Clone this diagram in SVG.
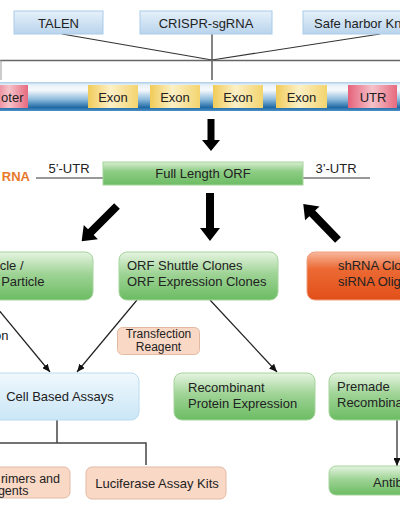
<svg xmlns="http://www.w3.org/2000/svg" width="400" height="516" viewBox="0 0 400 516">
<defs>
<style>
text{font-family:"Liberation Sans",Arial,sans-serif;font-size:13px;fill:#222;}
.c{text-anchor:middle;}
.e{text-anchor:end;}
.top{fill:url(#gTop);stroke:#a9cbe8;stroke-width:1;}
.green{fill:url(#gGreen);stroke:#a6d49d;stroke-width:1;}
.peach{fill:#fad8c6;stroke:#e2b9a3;stroke-width:1;}
.blue{fill:url(#gBlue);stroke:#bcdcef;stroke-width:1;}
.exon{fill:url(#gExon);}
.pink{fill:url(#gPink);}
.thin{stroke:#222;stroke-width:1.2;fill:none;marker-end:url(#ah);}
.tree{stroke:#444;stroke-width:1.5;fill:none;}
.big{fill:#000;}
.sm{font-size:12px;}
</style>
<linearGradient id="gTop" x1="0" y1="0" x2="0" y2="1"><stop offset="0" stop-color="#e6f0fa"/><stop offset="1" stop-color="#b9d4ec"/></linearGradient>
<linearGradient id="gGreen" x1="0" y1="0" x2="0" y2="1"><stop offset="0" stop-color="#e6f4e1"/><stop offset="0.45" stop-color="#9fd496"/><stop offset="1" stop-color="#6cbc63"/></linearGradient>
<linearGradient id="gOrf" x1="0" y1="0" x2="0" y2="1"><stop offset="0" stop-color="#d8eed2"/><stop offset="0.4" stop-color="#8fcd86"/><stop offset="1" stop-color="#6cbc63"/></linearGradient>
<linearGradient id="gOrange" x1="0" y1="0" x2="0" y2="1"><stop offset="0" stop-color="#f7b79d"/><stop offset="0.35" stop-color="#ec6a34"/><stop offset="1" stop-color="#e24f19"/></linearGradient>
<linearGradient id="gBlue" x1="0" y1="0" x2="0" y2="1"><stop offset="0" stop-color="#f0f8fd"/><stop offset="1" stop-color="#cae6f6"/></linearGradient>
<linearGradient id="gBar" x1="0" y1="0" x2="0" y2="1"><stop offset="0" stop-color="#a9cbe6"/><stop offset="0.1" stop-color="#e8f1f9"/><stop offset="0.28" stop-color="#f6f9fc"/><stop offset="0.6" stop-color="#8dbbdc"/><stop offset="0.88" stop-color="#1f6aa5"/><stop offset="1" stop-color="#4e91c6"/></linearGradient>
<linearGradient id="gExon" x1="0" y1="0" x2="1" y2="0"><stop offset="0" stop-color="#f1cb58"/><stop offset="0.45" stop-color="#fcf0c6"/><stop offset="1" stop-color="#f3d46e"/></linearGradient>
<linearGradient id="gPink" x1="0" y1="0" x2="1" y2="0"><stop offset="0" stop-color="#e5627a"/><stop offset="0.5" stop-color="#f6c2ca"/><stop offset="1" stop-color="#e66a7e"/></linearGradient>
<marker id="ah" viewBox="0 0 8 7" markerWidth="8" markerHeight="7" refX="8" refY="3.5" orient="auto" markerUnits="userSpaceOnUse"><path d="M0,0 L8,3.5 L0,7 z" fill="#111"/></marker>
</defs>
<rect width="400" height="516" fill="#fff"/>

<g id="connectors">
<line x1="62" y1="34" x2="212" y2="60" stroke="#333" stroke-width="1.2"/>
<line x1="380" y1="34" x2="212" y2="60" stroke="#333" stroke-width="1.2"/>
<line x1="212" y1="34" x2="212" y2="80" stroke="#333" stroke-width="1.2"/>
<line x1="0" y1="60.5" x2="400" y2="60.5" stroke="#666" stroke-width="1.6"/>
<line x1="1" y1="60" x2="1" y2="80" stroke="#999" stroke-width="1"/>
<polygon class="big" points="207.5,119 214.5,119 214.5,140 220,140 211,151 202,140 207.5,140"/>
<polygon class="big" points="206,193 214,193 214,228 220,228 210,241 200,228 206,228"/>
<polygon class="big" points="0,-4 37,-4 37,-10 50,0 37,10 37,4 0,4" transform="translate(117,206) rotate(135)"/>
<polygon class="big" points="0,-4 37,-4 37,-10 50,0 37,10 37,4 0,4" transform="translate(338,240) rotate(-134)"/>
<line x1="36" y1="178" x2="103" y2="178" stroke="#333" stroke-width="1.2"/>
<line x1="303" y1="178" x2="370" y2="178" stroke="#333" stroke-width="1.2"/>
<line class="thin" x1="-12" y1="297" x2="50" y2="372"/>
<line class="thin" x1="137" y1="300" x2="77" y2="372"/>
<line class="thin" x1="210" y1="300" x2="277" y2="372"/>
<line class="thin" x1="397" y1="420" x2="397" y2="466"/>
<polyline class="tree" points="57,420 57,443"/>
<polyline class="tree" points="-5,443 146,443 146,465"/>
</g>

<g id="talen"><rect class="top" x="14" y="11" width="89" height="23"/><text class="c" x="58.5" y="27.5">TALEN</text></g>
<g id="crispr"><rect class="top" x="140" y="11" width="132" height="23"/><text class="c" x="206" y="27.5">CRISPR-sgRNA</text></g>
<g id="safeharbor"><rect class="top" x="303" y="11" width="120" height="23"/><text x="314" y="27.5">Safe harbor Kn</text></g>

<g id="chromosome">
<rect x="0" y="82" width="400" height="29" fill="url(#gBar)"/>
<g id="promoter"><rect class="pink" x="-10" y="85" width="38" height="23"/><text class="e" x="23.5" y="102">oter</text></g>
<g id="exon1"><rect class="exon" x="88" y="85" width="50" height="23"/><text class="c" x="113" y="102">Exon</text></g>
<g id="exon2"><rect class="exon" x="150" y="85" width="50" height="23"/><text class="c" x="175" y="102">Exon</text></g>
<g id="exon3"><rect class="exon" x="213" y="85" width="50" height="23"/><text class="c" x="238" y="102">Exon</text></g>
<g id="exon4"><rect class="exon" x="276" y="85" width="51" height="23"/><text class="c" x="301.5" y="102">Exon</text></g>
<g id="utr"><rect class="pink" x="348" y="85" width="49" height="23"/><text class="c" x="373" y="102">UTR</text></g>
</g>

<g id="mrna">
<text class="e" x="30" y="180.5" style="fill:#e8792a;font-weight:bold">RNA</text>
<text class="c" x="69" y="172.5">5’-UTR</text>
<text class="c" x="336" y="173">3’-UTR</text>
</g>
<g id="orf"><rect x="103" y="162" width="200" height="23" fill="url(#gOrf)" stroke="#a6d49d"/><text class="c" x="203" y="177.5">Full Length ORF</text></g>

<g id="particle"><rect class="green" x="-12" y="252" width="105" height="48" rx="8"/><text class="e" x="23.5" y="270">cle /</text><text class="e" x="44.5" y="285.5">Particle</text></g>
<g id="orfclones"><rect class="green" x="119" y="252" width="159" height="48" rx="8"/><text x="127" y="270">ORF Shuttle Clones</text><text x="127" y="285.5">ORF Expression Clones</text></g>
<g id="shrna"><rect x="307" y="252" width="110" height="48" rx="8" fill="url(#gOrange)" stroke="#f0a080"/><text x="338" y="270">shRNA Clo</text><text x="338" y="285.5">siRNA Olig</text></g>

<g id="transduction"><text class="e" x="8.5" y="340">on</text></g>
<g id="transfection"><rect class="peach" x="117.5" y="327.5" width="82" height="27" rx="5"/><text class="c sm" x="158.5" y="338">Transfection</text><text class="c sm" x="158.5" y="350.5">Reagent</text></g>

<g id="cellassays"><rect class="blue" x="-12" y="373" width="151" height="47" rx="8"/><text class="c" x="60" y="401">Cell Based Assays</text></g>
<g id="recombinant"><rect class="green" x="174" y="373" width="141" height="47" rx="8"/><text x="188" y="391.5">Recombinant</text><text x="188" y="407.5">Protein Expression</text></g>
<g id="premade"><rect class="green" x="329" y="373" width="95" height="47" rx="8"/><text x="337" y="391">Premade</text><text x="337" y="406.5">Recombina</text></g>
<g id="antibody"><rect class="green" x="329" y="466" width="95" height="29" rx="7"/><text x="373" y="486.5">Antib</text></g>

<g id="primers"><rect class="peach" x="-12" y="467" width="82" height="31" rx="6"/><text class="e" x="60" y="482.5" style="font-size:12.5px">rimers and</text><text class="e" x="28.5" y="495" style="font-size:12.5px">gents</text></g>
<g id="luciferase"><rect class="peach" x="86" y="467" width="140" height="32" rx="6"/><text class="c" x="157" y="488">Luciferase Assay Kits</text></g>
</svg>
